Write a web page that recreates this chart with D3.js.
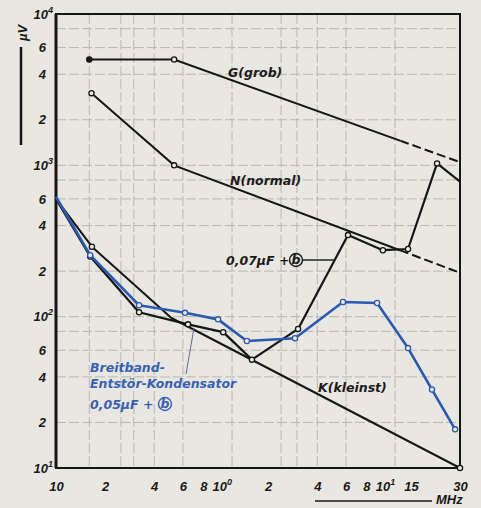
<!DOCTYPE html>
<html>
<head>
<meta charset="utf-8">
<script src="https://cdn.jsdelivr.net/npm/d3@7"></script>
<style>
  body { margin: 0; background: #e9e7e1; }
  svg { display: block; }
  .tick-label { font-family: "Liberation Sans", Arial, sans-serif; font-style: italic; font-weight: 700; font-size: 13px; fill: #1a1a1a; }
  .curve-label { font-family: "DejaVu Sans", sans-serif; font-style: oblique; font-weight: 700; font-size: 12.5px; fill: #1c1c1c; }
  .blue-label { fill: #3a60b6; }
</style>
</head>
<body>
<div id="chart"></div>
<script>
const WIDTH = 481;
const HEIGHT = 508;
const MARGIN = { top: 14, right: 21, bottom: 40, left: 56 };

// frequency in MHz, level in µV
const gFreq = [0.16, 0.53, 30];
const gVolt = [5000, 5000, 1050];
const nFreq = [0.165, 0.53, 30];
const nVolt = [3000, 1000, 195];
const kFreq = [0.1, 0.166, 0.51, 30];
const kVolt = [600, 290, 98, 10];
const c07Freq = [0.1, 0.162, 0.323, 0.645, 1.06, 1.59, 3.05, 6.17, 10.1, 14.4, 21.7, 30];
const c07Volt = [600, 250, 107, 89, 79, 52, 83, 346, 275, 280, 1030, 780];
const c05Freq = [0.1, 0.162, 0.323, 0.618, 0.985, 1.48, 2.92, 5.75, 9.3, 14.4, 20.2, 28];
const c05Volt = [620, 255, 119, 106, 96, 69, 72, 125, 123, 62, 33, 18];

const DASH_FROM = 13; // G and N continue dashed above this frequency

const xTicks = [0.1, 0.2, 0.4, 0.6, 0.8, 1, 2, 4, 6, 8, 10, 15, 30];
const xTickLabels = ["10", "2", "4", "6", "8", "10^0", "2", "4", "6", "8", "10^1", "15", "30"];
const yTicks = [10, 20, 40, 60, 100, 200, 400, 600, 1000, 2000, 4000, 6000, 10000];
const yTickLabels = ["10^1", "2", "4", "6", "10^2", "2", "4", "6", "10^3", "2", "4", "6", "10^4"];
const xGrid = [0.16, 0.25, 0.3, 0.4, 0.6, 1.2, 2.4, 3, 4, 6, 12];
const yGrid = [20, 40, 60, 80, 100, 200, 400, 600, 800, 1000, 2000, 4000, 6000, 8000];

const INK = "#161616";
const BLUE = "#2f58b4";

const svg = d3.select("#chart").append("svg").attr("width", WIDTH).attr("height", HEIGHT);

const x = d3.scaleLog().domain([0.1, 30]).range([MARGIN.left, WIDTH - MARGIN.right]);
const y = d3.scaleLog().domain([10, 10000]).range([HEIGHT - MARGIN.bottom, MARGIN.top]);
const x0 = x.range()[0], x1 = x.range()[1], y0 = y.range()[0], y1 = y.range()[1];

// paper grid
const grid = svg.append("g").attr("stroke", "#707070").attr("stroke-width", 1).attr("stroke-dasharray", "10,3").attr("opacity", 0.4);
grid.selectAll("line.v").data(xGrid).join("line").attr("class", "v")
  .attr("x1", (d) => x(d)).attr("x2", (d) => x(d)).attr("y1", y1).attr("y2", y0);
grid.selectAll("line.h").data(yGrid).join("line").attr("class", "h")
  .attr("x1", x0).attr("x2", x1).attr("y1", (d) => y(d)).attr("y2", (d) => y(d));

function setLabel(text, label) {
  const [base, exp] = label.split("^");
  text.text(base);
  if (exp) text.append("tspan").attr("dy", -6).attr("font-size", 9).text(exp);
}

const xAxis = svg.append("g").attr("transform", `translate(0,${y0})`)
  .call(d3.axisBottom(x).tickValues(xTicks).tickSize(0).tickPadding(14));
xAxis.select(".domain").remove();
xAxis.selectAll(".tick text").attr("class", "tick-label").each(function (d, i) {
  const t = d3.select(this);
  setLabel(t, xTickLabels[i]);
  if (xTickLabels[i].includes("^")) t.attr("text-anchor", "start").attr("x", -7);
});

const yAxis = svg.append("g").attr("transform", `translate(${x0},0)`)
  .call(d3.axisLeft(y).tickValues(yTicks).tickSize(0).tickPadding(10));
yAxis.select(".domain").remove();
yAxis.selectAll(".tick text").attr("class", "tick-label").each(function (d, i) {
  const t = d3.select(this);
  setLabel(t, yTickLabels[i]);
  if (yTickLabels[i].includes("^")) t.attr("x", -3);
});

// frame
svg.append("rect").attr("x", x0).attr("y", y1).attr("width", x1 - x0).attr("height", y0 - y1)
  .attr("fill", "none").attr("stroke", INK).attr("stroke-width", 2);
svg.append("line").attr("x1", x0).attr("x2", x0).attr("y1", y1).attr("y2", y0)
  .attr("stroke", INK).attr("stroke-width", 3);

// clip regions for the solid / dashed parts of the limit lines
const defs = svg.append("defs");
defs.append("clipPath").attr("id", "solid-part").append("rect")
  .attr("x", 0).attr("y", 0).attr("width", x(DASH_FROM)).attr("height", HEIGHT);
defs.append("clipPath").attr("id", "dash-part").append("rect")
  .attr("x", x(DASH_FROM)).attr("y", 0).attr("width", WIDTH).attr("height", HEIGHT);

const line = d3.line().x((d) => x(d[0])).y((d) => y(d[1]));

const series = [
  { pts: d3.zip(kFreq, kVolt), color: INK, width: 2, marks: [1, 3] },
  { pts: d3.zip(c07Freq, c07Volt), color: INK, width: 2.2, marks: [1, 2, 3, 4, 5, 6, 7, 8, 9, 10] },
  { pts: d3.zip(c05Freq, c05Volt), color: BLUE, width: 2.6, marks: [1, 2, 3, 4, 5, 6, 7, 8, 9, 10, 11] },
  { pts: d3.zip(nFreq, nVolt), color: INK, width: 2, marks: [0, 1], dashed: true },
  { pts: d3.zip(gFreq, gVolt), color: INK, width: 2, marks: [0, 1], dashed: true, filledFirst: true },
];

series.forEach((s) => {
  if (s.dashed) {
    svg.append("path").attr("d", line(s.pts)).attr("fill", "none").attr("stroke", s.color)
      .attr("stroke-width", s.width).attr("clip-path", "url(#solid-part)");
    svg.append("path").attr("d", line(s.pts)).attr("fill", "none").attr("stroke", s.color)
      .attr("stroke-width", s.width).attr("stroke-dasharray", "9,4").attr("clip-path", "url(#dash-part)");
  } else {
    svg.append("path").attr("d", line(s.pts)).attr("fill", "none").attr("stroke", s.color)
      .attr("stroke-width", s.width).attr("stroke-linejoin", "round");
  }
  svg.append("g").selectAll("circle").data(s.marks.map((i) => s.pts[i])).join("circle")
    .attr("cx", (d) => x(d[0])).attr("cy", (d) => y(d[1])).attr("r", 2.6)
    .attr("fill", (d, i) => (s.filledFirst && i === 0 ? INK : "#eeece6"))
    .attr("stroke", s.color).attr("stroke-width", 1.3);
});

// curve labels
svg.append("text").attr("class", "curve-label").attr("x", 228).attr("y", 77).text("G(grob)");
svg.append("text").attr("class", "curve-label").attr("x", 230).attr("y", 185).text("N(normal)");
svg.append("text").attr("class", "curve-label").attr("x", 318).attr("y", 392).text("K(kleinst)");

svg.append("text").attr("class", "curve-label").attr("x", 226).attr("y", 265).text("0,07µF +");
svg.append("circle").attr("cx", 296).attr("cy", 260).attr("r", 6.5).attr("fill", "none").attr("stroke", INK).attr("stroke-width", 1.4);
svg.append("text").attr("class", "curve-label").attr("x", 296).attr("y", 264).attr("text-anchor", "middle")
  .attr("font-size", 10).text("b");
svg.append("line").attr("x1", 303).attr("x2", 334).attr("y1", 260).attr("y2", 260).attr("stroke", INK).attr("stroke-width", 1.4);

const blueText = svg.append("text").attr("class", "curve-label blue-label");
blueText.append("tspan").attr("x", 90).attr("y", 372).text("Breitband-");
blueText.append("tspan").attr("x", 90).attr("y", 388).text("Entstör-Kondensator");
blueText.append("tspan").attr("x", 90).attr("y", 409).text("0,05µF +");
svg.append("circle").attr("cx", 165).attr("cy", 404).attr("r", 6.5).attr("fill", "none").attr("stroke", "#3a60b6").attr("stroke-width", 1.4);
svg.append("text").attr("class", "curve-label blue-label").attr("x", 165).attr("y", 408).attr("text-anchor", "middle")
  .attr("font-size", 10).text("b");
svg.append("line").attr("x1", 186).attr("y1", 374).attr("x2", 194).attr("y2", 328)
  .attr("stroke", "#5a6f9a").attr("stroke-width", 1);

// unit labels
svg.append("text").attr("class", "tick-label").attr("transform", "translate(27,33) rotate(-90)")
  .attr("text-anchor", "middle").text("µV");
svg.append("line").attr("x1", 21).attr("x2", 21).attr("y1", 47).attr("y2", 145).attr("stroke", INK).attr("stroke-width", 2.5);
svg.append("line").attr("x1", 315).attr("x2", 432).attr("y1", 501).attr("y2", 501).attr("stroke", INK).attr("stroke-width", 1.5);
svg.append("text").attr("class", "tick-label").attr("x", 436).attr("y", 504).attr("font-size", 11.5).text("MHz");
</script>
</body>
</html>
